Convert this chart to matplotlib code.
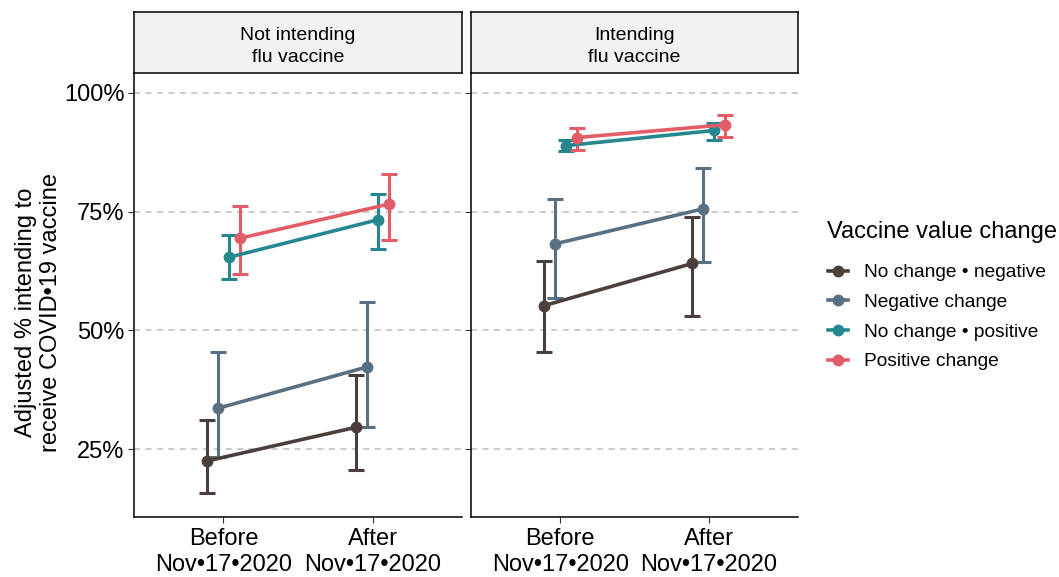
## Recreation of faceted dodged point/errorbar chart

import numpy as np
import matplotlib.pyplot as plt
from matplotlib.lines import Line2D

plt.rcParams['font.family'] = ['Liberation Sans', 'DejaVu Sans']

## Data (percent)

panels = ['Not intending\nflu vaccine', 'Intending\nflu vaccine']
periods = ['Before\nNov\u202217\u20222020', 'After\nNov\u202217\u20222020']
groups = ['No change \u2022 negative', 'Negative change', 'No change \u2022 positive', 'Positive change']
colors = ['#4B3F3D', '#587082', '#26888F', '#E35D69']

# [panel][group] -> (before, after)
est_not = [[22.5, 29.6], [33.6, 42.3], [65.4, 73.3], [69.4, 76.6]]
lo_not = [[15.8, 20.6], [23.4, 29.7], [60.8, 67.2], [61.9, 69.1]]
hi_not = [[31.1, 40.5], [45.5, 55.9], [70.1, 78.7], [76.1, 83.0]]

est_int = [[55.2, 64.1], [68.2, 75.6], [88.9, 92.1], [90.6, 93.3]]
lo_int = [[45.4, 53.0], [56.8, 64.4], [87.7, 90.0], [88.0, 90.8]]
hi_int = [[64.7, 73.8], [77.6, 84.1], [90.0, 93.7], [92.7, 95.4]]

est = [est_not, est_int]
lo = [lo_not, lo_int]
hi = [hi_not, hi_int]

## Figure layout

fig = plt.figure(figsize=(10.59, 5.77), dpi=100)
W, H = 1059, 577
ax_boxes = [(134, 462), (471, 798)]
top, bottom = 73, 517
strip_top = 12

offsets = np.array([-0.11, -0.037, 0.037, 0.11])
xpos = np.array([1, 2])

for p in range(2):
    x0, x1 = ax_boxes[p]
    ax = fig.add_axes([x0 / W, 1 - bottom / H, (x1 - x0) / W, (bottom - top) / H])
    for g in range(4):
        xs = xpos + offsets[g]
        y = np.array(est[p][g])
        yerr = [y - np.array(lo[p][g]), np.array(hi[p][g]) - y]
        ax.errorbar(xs, y, yerr=yerr, fmt='none', ecolor=colors[g],
                    elinewidth=2.2, capsize=5.5, capthick=2.2, zorder=3)
        ax.plot(xs, y, color=colors[g], lw=2.6, marker='o', ms=7.5, zorder=4)
    ax.set_xlim(0.4, 2.6)
    ax.set_ylim(10.7, 104.2)
    ax.set_yticks([25, 50, 75, 100])
    ax.set_xticks(xpos)
    ax.set_xticklabels(periods, fontsize=17, linespacing=1.23)
    for yy in [25, 50, 75, 100]:
        ax.axhline(yy, color='#BDBDBD', lw=1.1, ls=(0, (4, 3.5)), zorder=1)
    if p == 0:
        ax.set_yticklabels(['25%', '50%', '75%', '100%'], fontsize=17)
        ax.set_ylabel('Adjusted % intending to\nreceive COVID\u202219 vaccine',
                      fontsize=17, linespacing=1.2)
        ax.yaxis.set_label_coords(-0.218, 0.46)
    else:
        ax.set_yticklabels([])
        ax.tick_params(axis='y', length=0)
    for s in ['top', 'right']:
        ax.spines[s].set_visible(False)
    ax.spines['left'].set_linewidth(1.1)
    ax.spines['bottom'].set_linewidth(1.1)
    ax.tick_params(axis='both', width=0.8, length=4, color='#333333', pad=3)
    ax.tick_params(axis='x', pad=4)

    # strip
    sax = fig.add_axes([x0 / W, 1 - top / H, (x1 - x0) / W, (top - strip_top) / H])
    sax.set_facecolor('#F2F2F2')
    sax.set_xticks([])
    sax.set_yticks([])
    for s in sax.spines.values():
        s.set_linewidth(1.1)
    sax.text(0.5, 0.43, panels[p], ha='center', va='center', fontsize=14,
             linespacing=1.42, transform=sax.transAxes)

## Legend

fig.text(827 / W, 1 - 232 / H, 'Vaccine value change', fontsize=17,
         ha='left', va='center')
handles = [Line2D([0], [0], color=c, lw=2.6, marker='o', ms=7.5) for c in colors]
leg = fig.legend(handles, groups, loc='upper left', bbox_to_anchor=(828 / W, 1 - 264 / H),
                 frameon=False, fontsize=13.8, handlelength=1.05, labelspacing=0.64,
                 handletextpad=0.83, borderpad=0, borderaxespad=0)

plt.savefig('out.png', dpi=100)
